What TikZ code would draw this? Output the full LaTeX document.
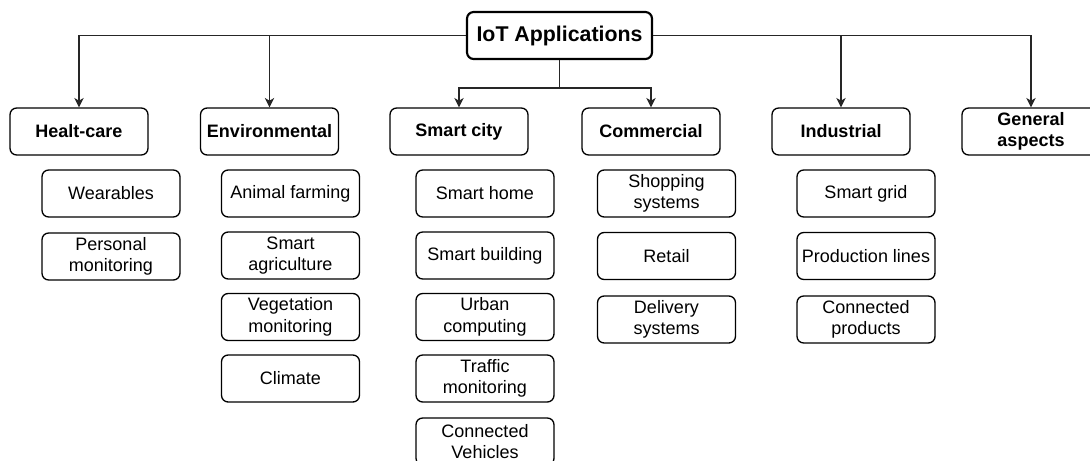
\documentclass[tikz,border=0pt]{standalone}
\usepackage{fontspec}
\setmainfont{Liberation Sans}
\usetikzlibrary{arrows.meta}
\tikzset{
  box/.style={draw=black, rounded corners=5pt, line width=1pt, fill=white,
    minimum width=103.5pt, minimum height=35.25pt, inner sep=0pt, align=center},
  catbox/.style={box, font=\fontsize{13.5}{16.2}\selectfont\bfseries},
  rootbox/.style={box, line width=1.6pt, minimum width=138.75pt, font=\fontsize{16}{19}\selectfont\bfseries},
  leaf/.style={box, font=\fontsize{13.5}{16.2}\selectfont},
  conn/.style={draw=black!85, line width=1pt},
  arr/.style={conn, -{Stealth[length=7pt, width=7pt, inset=2pt]}}
}
\begin{document}
\begin{tikzpicture}[x=0.75pt, y=-0.75pt]
\clip (0,0) rectangle (1090,461);
\fill[white] (0,0) rectangle (1090,461);

% root
\node[rootbox] (root) at (559.5,35.5) {IoT Applications};

% categories
\node[catbox] (hc)  at (79,131.5)   {Healt-care};
\node[catbox] (env) at (269.5,131.5) {Environmental};
\node[catbox] (sc)  at (459,131.5)  {Smart city};
\node[catbox] (com) at (651,131.5)  {Commercial};
\node[catbox] (ind) at (841,131.5)  {Industrial};
\node[catbox] (gen) at (1031,131.5) {General\\aspects};

% connectors
\coordinate (j) at (559.5,88);
\draw[arr] (root.west) -| (hc.north);
\draw[arr] (root.west) -| (env.north);
\draw[arr] (root.east) -| (gen.north);
\draw[arr] (root.east) -| (ind.north);
\draw[conn] (root.south) -- (j);
\draw[arr] (j) -| (sc.north);
\draw[arr] (j) -| (com.north);

% Health-care children
\node[leaf] (hc1) at (111,193.5) {Wearables};
\node[leaf] (hc2) at (111,256.5) {Personal\\monitoring};

% Environmental children
\node[leaf] (env1) at (290.5,193.5) {Animal farming};
\node[leaf] (env2) at (290.5,255.5) {Smart\\agriculture};
\node[leaf] (env3) at (290.5,317)   {Vegetation\\monitoring};
\node[leaf] (env4) at (290.5,378.5) {Climate};

% Smart city children
\node[leaf] (sc1) at (485,193.5) {Smart home};
\node[leaf] (sc2) at (485,255.5) {Smart building};
\node[leaf] (sc3) at (485,317)   {Urban\\computing};
\node[leaf] (sc4) at (485,378.5) {Traffic\\monitoring};
\node[leaf] (sc5) at (485,441.5) {Connected\\Vehicles};

% Commercial children
\node[leaf] (com1) at (666.5,193.5) {Shopping\\systems};
\node[leaf] (com2) at (666.5,256)   {Retail};
\node[leaf] (com3) at (666.5,319.5) {Delivery\\systems};

% Industrial children
\node[leaf] (ind1) at (866,193.5) {Smart grid};
\node[leaf] (ind2) at (866,256)   {Production lines};
\node[leaf] (ind3) at (866,319.5) {Connected\\products};
\end{tikzpicture}
\end{document}
